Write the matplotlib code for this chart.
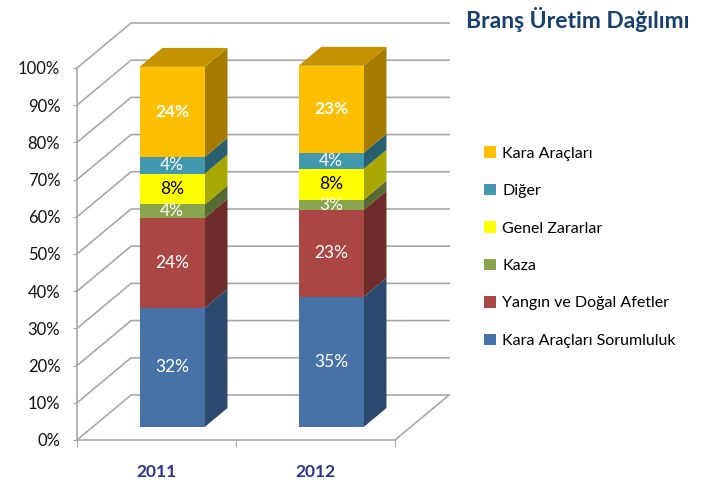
import matplotlib
matplotlib.use("Agg")
import matplotlib.pyplot as plt
from matplotlib.patches import Polygon, Patch
import numpy as np

plt.rcParams['font.family'] = ['Lato', 'DejaVu Sans']

# ---- data ----
years = ["2011", "2012"]
series_names = ["Kara Araçları Sorumluluk", "Yangın ve Doğal Afetler", "Kaza",
                "Genel Zararlar", "Diğer", "Kara Araçları"]
values_2011 = [32.0, 24.2, 3.6, 8.3, 4.5, 24.2]
values_2012 = [35.0, 23.4, 2.7, 8.3, 4.3, 23.4]
data_labels_2011 = ["32%", "24%", "4%", "8%", "4%", "24%"]
data_labels_2012 = ["35%", "23%", "3%", "8%", "4%", "23%"]
yticks = [0, 10, 20, 30, 40, 50, 60, 70, 80, 90, 100]
title = "Branş Üretim Dağılımı"

# ---- styles ----
front_colors = ["#4672A8", "#AA4643", "#89A54E", "#FFFF00", "#4198AF", "#FDBF00"]
side_colors = ["#2C4A70", "#6E2C2A", "#566A32", "#A8A800", "#29606F", "#A67C00"]
top_color = "#C59300"
label_colors = ["white", "white", "white", "black", "white", "white"]
label_weights = ["normal", "normal", "normal", "normal", "normal", "bold"]
grid_color = "#A8A8A8"

W, H = 713, 483
fig = plt.figure(figsize=(W / 100, H / 100), dpi=100)
ax = fig.add_axes([77 / W, (H - 440) / H, 318 / W, 372 / H])
ax.set_xlim(-0.5, 1.5)
ax.set_ylim(0, 100)

DX, DY = 0.34, 12.1           # full depth offset in data units
f_front, f_back = 0.29, 0.71  # bar depth position
fx, fy = f_front * DX, f_front * DY
bx, by = f_back * DX, f_back * DY
bw = 0.41

# walls / gridlines
for t in yticks:
    ax.plot([-0.5, -0.5 + DX, 1.5 + DX], [t, t + DY, t + DY],
            color=grid_color, lw=1.2, clip_on=False, zorder=1)
ax.plot([1.5, 1.5 + DX], [0, DY], color=grid_color, lw=1.2, clip_on=False, zorder=1)

# bars
all_vals = [values_2011, values_2012]
all_labels = [data_labels_2011, data_labels_2012]
for i, vals in enumerate(all_vals):
    bottom = 0.0
    for k, v in enumerate(vals):
        ax.bar(i + fx, v, bottom=bottom + fy, width=bw, color=front_colors[k],
               edgecolor="none", zorder=5, clip_on=False)
        xr = i + bw / 2
        side = Polygon([(xr + fx, bottom + fy), (xr + bx, bottom + by),
                        (xr + bx, bottom + v + by), (xr + fx, bottom + v + fy)],
                       closed=True, facecolor=side_colors[k], edgecolor="none",
                       zorder=4, clip_on=False)
        ax.add_patch(side)
        ax.text(i + fx, bottom + v / 2 + fy, all_labels[i][k], ha="center", va="center",
                color=label_colors[k], fontsize=12.5, fontweight=label_weights[k], zorder=10)
        bottom += v
    xl, xr = i - bw / 2, i + bw / 2
    top = Polygon([(xl + fx, bottom + fy), (xr + fx, bottom + fy),
                   (xr + bx, bottom + by), (xl + bx, bottom + by)],
                  closed=True, facecolor=top_color, edgecolor="none", zorder=4, clip_on=False)
    ax.add_patch(top)

# axes styling
for s in ["top", "right"]:
    ax.spines[s].set_visible(False)
for s in ["left", "bottom"]:
    ax.spines[s].set_color(grid_color)
    ax.spines[s].set_linewidth(1.2)
ax.set_yticks(yticks)
ax.set_yticklabels([f"{t}%" for t in yticks])
ax.tick_params(axis="y", length=3, color=grid_color, pad=9, labelsize=12, labelcolor="#111111")
ax.set_xticks([-0.5, 0.5, 1.5])
ax.set_xticklabels([])
ax.tick_params(axis="x", which="major", length=5, color=grid_color)
ax.set_xticks([0, 1], minor=True)
ax.set_xticklabels(years, minor=True)
ax.tick_params(axis="x", which="minor", length=0, pad=17, labelsize=12.5,
               labelcolor="#2E3092")
for lbl in ax.get_xticklabels(minor=True):
    lbl.set_fontweight("bold")

# legend
handles = [Patch(facecolor=front_colors[k], edgecolor="none", label=series_names[k])
           for k in range(len(series_names))][::-1]
fig.legend(handles=handles, loc="upper left", bbox_to_anchor=(478 / W, 1 - 140 / H),
           frameon=False, fontsize=11.5, handlelength=0.72, handleheight=0.72,
           handletextpad=0.4, labelspacing=1.45, borderaxespad=0)

fig.text(690 / W, 1 - 20 / H, title, ha="right", va="center", fontsize=16.5,
         fontweight="bold", color="#17406D")

fig.savefig("out.png", dpi=100)
